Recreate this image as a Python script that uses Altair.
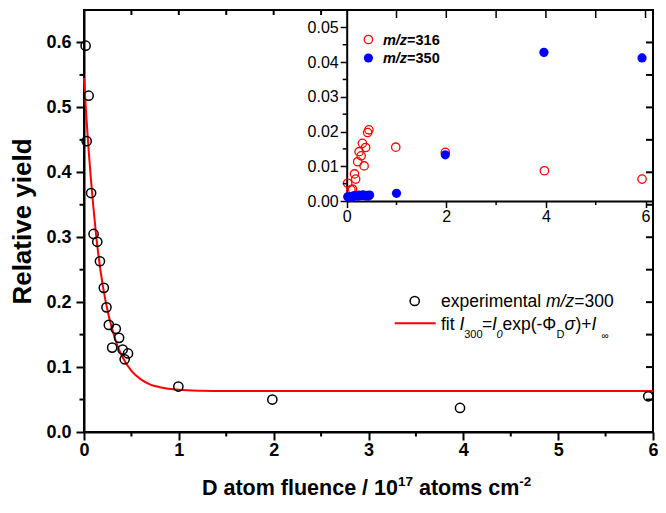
import altair as alt
import pandas as pd

FONT = "Liberation Sans"

# ---------------- data ----------------
# main series: experimental m/z=300
fluence_300 = [0.017, 0.028, 0.049, 0.075, 0.101, 0.140, 0.168, 0.209, 0.237, 0.262,
               0.297, 0.335, 0.370, 0.408, 0.429, 0.464, 0.995, 1.986, 3.965, 5.950]
yield_300 = [0.595, 0.448, 0.518, 0.368, 0.305, 0.293, 0.263, 0.222, 0.192, 0.165,
             0.130, 0.159, 0.145, 0.127, 0.112, 0.121, 0.070, 0.050, 0.037, 0.055]

# fit curve
fit_fluence = [0, 0.025, 0.05, 0.075, 0.1, 0.125, 0.15, 0.2, 0.25, 0.3, 0.35, 0.4,
               0.5, 0.6, 0.7, 0.8, 1.0, 1.25, 1.5, 2, 3, 4, 5, 6]
fit_yield = [0.545, 0.485, 0.432, 0.386, 0.345, 0.307, 0.275, 0.224, 0.186, 0.157,
             0.134, 0.117, 0.094, 0.081, 0.073, 0.069, 0.065, 0.0635, 0.063, 0.063,
             0.063, 0.063, 0.063, 0.063]

# inset: m/z=316 (open red) and m/z=350 (filled blue)
fluence_316 = [0.020, 0.085, 0.118, 0.157, 0.180, 0.220, 0.250, 0.290, 0.315, 0.350,
               0.380, 0.420, 0.446, 0.985, 1.980, 3.970, 5.930]
yield_316 = [0.0051, 0.0032, 0.0034, 0.0078, 0.0063, 0.0113, 0.0142, 0.0130, 0.0166,
             0.0101, 0.0154, 0.0197, 0.0205, 0.0155, 0.0140, 0.0087, 0.0063]

fluence_350 = [0.02, 0.05, 0.08, 0.10, 0.14, 0.17, 0.21, 0.24, 0.26, 0.30, 0.33, 0.37,
               0.41, 0.43, 0.46, 1.00, 1.98, 3.96, 5.93]
yield_350 = [0.0012, 0.0010, 0.0013, 0.0011, 0.0015, 0.0016, 0.0014, 0.0017, 0.0015,
             0.0016, 0.0018, 0.0015, 0.0016, 0.0014, 0.0017, 0.0022, 0.0133, 0.0428, 0.0412]

# tick values
main_x_major = [0, 1, 2, 3, 4, 5, 6]
main_x_minor = [0.5, 1.5, 2.5, 3.5, 4.5, 5.5]
main_x_top = [0.5, 1.0, 1.5, 2.0, 2.5]
main_y_major = [0.0, 0.1, 0.2, 0.3, 0.4, 0.5, 0.6]
main_y_minor = [0.05, 0.15, 0.25, 0.35, 0.45, 0.55]
main_y_right = [0.05, 0.1, 0.15, 0.2, 0.25, 0.3, 0.35, 0.4, 0.45, 0.5, 0.55, 0.6]
inset_x_major = [0, 2, 4, 6]
inset_x_minor = [1, 3, 5]
inset_x_top = [1, 2, 3, 4, 5, 6]
inset_y_major = [0.0, 0.01, 0.02, 0.03, 0.04, 0.05]
inset_y_minor = [0.005, 0.015, 0.025, 0.035, 0.045]

# ---------------- layout ----------------
W, H = 569, 422
IX0, IX1 = 262.7, W        # inset x-range in plot pixels
IY0, IY1 = 191, 0          # inset y-range in plot pixels


def xs_main():
    return alt.Scale(domain=[0, 6], nice=False, zero=False)


def ys_main():
    return alt.Scale(domain=[0, 0.65], nice=False)


def xs_in():
    return alt.Scale(domain=[0, 6.15], range=[IX0, IX1], nice=False, zero=False)


def ys_in():
    return alt.Scale(domain=[0, 0.055], range=[IY0, IY1], nice=False)


one = pd.DataFrame({"a": [0]})


def txt(s, x, y, size, weight="normal", style="normal", color="black", align="left"):
    return alt.Chart(one).mark_text(
        text=s, font=FONT, fontSize=size, fontWeight=weight, fontStyle=style,
        align=align, baseline="alphabetic", color=color
    ).encode(x=alt.value(x), y=alt.value(y))


def tickrules(vals, ch, scale, a, b, width=2):
    df = pd.DataFrame({"v": vals})
    if ch == "x":
        enc = dict(x=alt.X("v:Q", scale=scale, axis=None), y=alt.value(a), y2=alt.value(b))
    else:
        enc = dict(y=alt.Y("v:Q", scale=scale, axis=None), x=alt.value(a), x2=alt.value(b))
    return alt.Chart(df).mark_rule(color="black", strokeWidth=width).encode(**enc)


# ---------------- main plot ----------------
df300 = pd.DataFrame({"x": fluence_300, "y": yield_300})
dffit = pd.DataFrame({"x": fit_fluence, "y": fit_yield})

main_axis_common = dict(labelFont=FONT, labelFontSize=18, labelFontWeight="bold",
                        labelColor="black", tickColor="black", domainColor="black",
                        tickWidth=2, domainWidth=2, tickSize=8, grid=False,
                        labelFlush=False, labelOverlap=False)

fit_line = alt.Chart(dffit).mark_line(color="#ff0000", strokeWidth=2, interpolate="monotone").encode(
    x=alt.X("x:Q", scale=xs_main(), axis=None), y=alt.Y("y:Q", scale=ys_main(), axis=None)
)

main_pts = alt.Chart(df300).mark_point(
    shape="circle", filled=False, color="black", size=85, strokeWidth=1.5, opacity=1
).encode(
    x=alt.X("x:Q", scale=xs_main(),
            axis=alt.Axis(orient="bottom", values=main_x_major, format="d", title=None,
                          labelPadding=1, **main_axis_common)),
    y=alt.Y("y:Q", scale=ys_main(),
            axis=alt.Axis(orient="left", values=main_y_major, format=".1f",
                          title="Relative yield",
                          labelPadding=5, titleFont=FONT, titleFontSize=26,
                          titleFontWeight="bold", titleColor="black", titleAngle=270,
                          titleX=-62, titleY=H / 2, titleAlign="center",
                          titleBaseline="middle", **main_axis_common)),
)

# ---------------- inset ----------------
df316 = pd.DataFrame({"x": fluence_316, "y": yield_316})
df350 = pd.DataFrame({"x": fluence_350, "y": yield_350})

inset_axis_common = dict(labelFont=FONT, labelFontSize=16, labelFontWeight="normal",
                         labelColor="black", tickColor="black", domainColor="black",
                         tickWidth=1.5, domainWidth=2, tickSize=6.5, grid=False,
                         labelFlush=False, labelOverlap=False, title=None)

red_pts = alt.Chart(df316).mark_point(
    shape="circle", filled=False, color="#ff0000", size=70, strokeWidth=1.3, opacity=1
).encode(
    x=alt.X("x:Q", scale=xs_in(),
            axis=alt.Axis(orient="bottom", offset=-(H - IY0), values=inset_x_major,
                          format="d", labelPadding=1, **inset_axis_common)),
    y=alt.Y("y:Q", scale=ys_in(),
            axis=alt.Axis(orient="left", offset=-IX0, values=inset_y_major,
                          format=".2f", labelPadding=2, **inset_axis_common)),
)

blue_pts = alt.Chart(df350).mark_point(
    shape="circle", filled=True, color="#0000ff", size=85, opacity=1
).encode(x=alt.X("x:Q", scale=xs_in(), axis=None), y=alt.Y("y:Q", scale=ys_in(), axis=None))

# ---------------- legends and x title ----------------
LX = 357  # legend text start (plot px)
leg_sym_main = alt.Chart(one).mark_point(
    shape="circle", filled=False, color="black", size=85, strokeWidth=1.5, opacity=1
).encode(x=alt.value(LX - 26.3), y=alt.value(291))
leg_line_main = alt.Chart(one).mark_rule(color="#ff0000", strokeWidth=2).encode(
    x=alt.value(LX - 46.3), x2=alt.value(LX - 5.3), y=alt.value(313.3))

FS = 17.5
SUB = 11
b1, b2 = 297.3, 319.5
leg_texts = [
    txt("experimental", LX, b1, FS),
    txt("m/z", LX + 6.002 * FS, b1, FS, style="italic"),
    txt("=300", LX + 7.613 * FS, b1, FS),
    txt("fit", LX, b2, FS),
    txt("I", LX + 18.5, b2, FS, style="italic"),
    txt("300", LX + 23.2, b2 + 8, SUB),
    txt("=", LX + 41.0, b2, FS),
    txt("I", LX + 51.0, b2, FS, style="italic"),
    txt("0", LX + 55.5, b2 + 8, SUB, style="italic"),
    txt("exp(-\u03a6", LX + 61.5, b2, FS),
    txt("D", LX + 115.5, b2 + 8, SUB),
    txt("\u03c3", LX + 123.5, b2, FS, style="italic"),
    txt(")+", LX + 134.5, b2, FS),
    txt("I", LX + 150.5, b2, FS, style="italic"),
    txt("\u221e", LX + 160.5, b2 + 9, SUB - 1),
]

ILS = 14.5
IL = 298.9  # inset legend text start
inset_leg = [
    alt.Chart(one).mark_point(shape="circle", filled=False, color="#ff0000", size=70,
                              strokeWidth=1.3, opacity=1).encode(x=alt.value(IL - 14.5), y=alt.value(29.5)),
    alt.Chart(one).mark_point(shape="circle", filled=True, color="#0000ff", size=85,
                              opacity=1).encode(x=alt.value(IL - 14.5), y=alt.value(48)),
    txt("m/z", IL, 34.7, ILS, weight="bold", style="italic"),
    txt("=316", IL + 1.667 * ILS, 34.7, ILS, weight="bold"),
    txt("m/z", IL, 53.2, ILS, weight="bold", style="italic"),
    txt("=350", IL + 1.667 * ILS, 53.2, ILS, weight="bold"),
]

TF, SF = 21.5, 13.5
tx0, tb = 118, 485
xtitle = [
    txt("D atom fluence / 10", tx0, tb, TF, weight="bold"),
    txt("17", tx0 + 9.114 * TF, tb - 9, SF, weight="bold"),
    txt("atoms cm", tx0 + 9.114 * TF + 1.112 * SF + 0.278 * TF, tb, TF, weight="bold"),
    txt("-2", tx0 + 9.114 * TF + 1.112 * SF + 4.946 * TF, tb - 9, SF, weight="bold"),
]

chart = alt.layer(
    fit_line,
    main_pts,
    tickrules(main_x_minor, "x", xs_main(), H, H + 4.5),
    tickrules(main_y_minor, "y", ys_main(), 0, -4.5),
    tickrules(main_x_top, "x", xs_main(), 0, 5),
    red_pts,
    blue_pts,
    tickrules(inset_x_minor, "x", xs_in(), IY0, IY0 + 4, 1.5),
    tickrules(inset_y_minor, "y", ys_in(), IX0, IX0 - 4, 1.5),
    tickrules(inset_x_top, "x", xs_in(), 0, 8, 1.5),
    tickrules(main_y_right, "y", ys_main(), W, W - 7),
    leg_line_main,
    leg_sym_main,
    *leg_texts,
    *inset_leg,
    *xtitle,
).resolve_scale(
    x="independent", y="independent"
).properties(
    width=W, height=H,
    autosize=alt.AutoSizeParams(type="none"),
    padding={"left": 76, "top": 2, "right": 5, "bottom": 68},
).configure(
    font=FONT,
    view=alt.ViewConfig(stroke="black", strokeWidth=2),
)

chart.save("out.html", embed_options={"renderer": "svg", "actions": False})
